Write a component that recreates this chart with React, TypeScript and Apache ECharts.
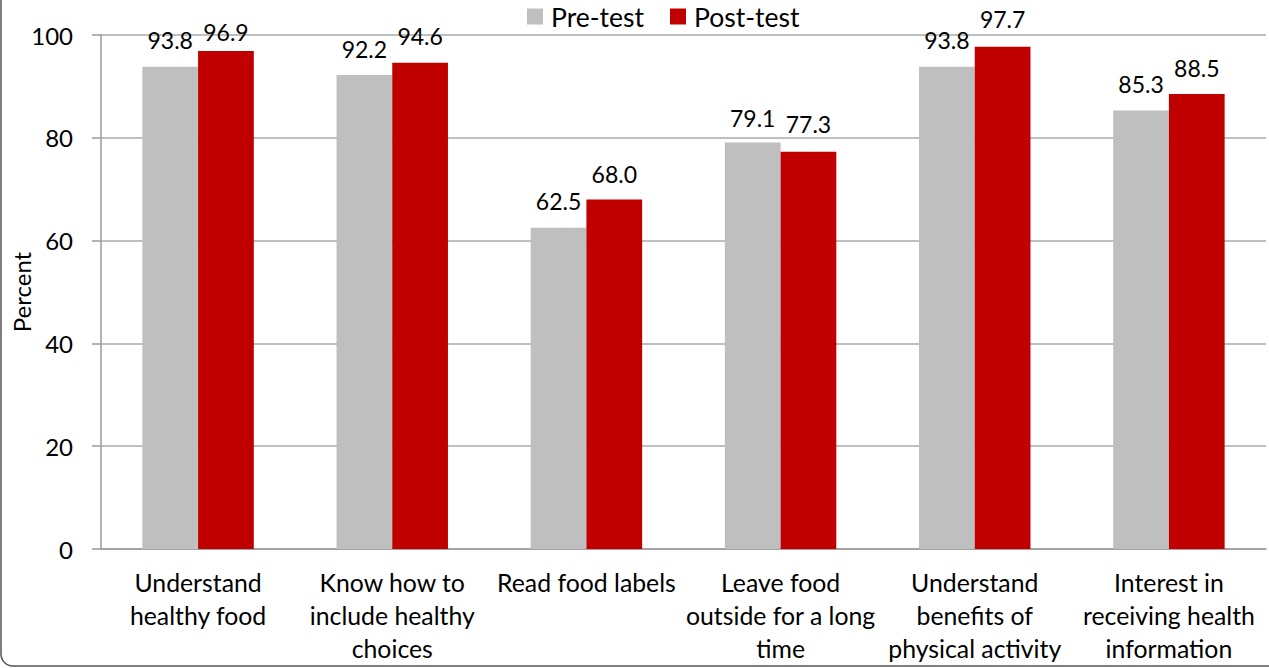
import React, { useEffect, useRef } from "react";
import * as echarts from "echarts";

const categories = [
  "Understand\nhealthy food",
  "Know how to\ninclude healthy\nchoices",
  "Read food labels",
  "Leave food\noutside for a long\ntime",
  "Understand\nbenefits of\nphysical activity",
  "Interest in\nreceiving health\ninformation",
];
const preTest = [93.8, 92.2, 62.5, 79.1, 93.8, 85.3];
const postTest = [96.9, 94.6, 68.0, 77.3, 97.7, 88.5];
const seriesNames = ["Pre-test", "Post-test"];

const FONT = "Lato";

// label offsets (px above bar) as in the original, where labels were nudged
const preDist = [15, 15, 15, 13, 15, 15];
const postDist = [7, 15, 14, 16, 16, 15];

export default function App() {
  const ref = useRef<HTMLDivElement>(null);
  useEffect(() => {
    if (!ref.current) return;
    const chart = echarts.init(ref.current, null, { renderer: "svg" });
    const labelStyle = {
      show: true,
      position: "top",
      distance: 15,
      color: "#000",
      fontFamily: FONT,
      fontSize: 23,
      fontWeight: "normal",
      formatter: (p: any) => Number(p.value).toFixed(1),
    };
    const mk = (vals: number[], dists: number[]) =>
      vals.map((v, i) => ({ value: v, label: { distance: dists[i] } }));
    chart.setOption({
      animation: false,
      textStyle: { fontFamily: FONT, fontWeight: "normal" },
      legend: {
        top: 3,
        left: 527,
        padding: 0,
        itemWidth: 16,
        itemHeight: 16,
        itemGap: 26,
        icon: "rect",
        textStyle: { fontSize: 26.5, color: "#000", fontFamily: FONT, padding: [0, 0, 0, 3] },
        data: seriesNames,
      },
      grid: {
        left: 101,
        right: 3,
        top: 35,
        bottom: 119,
        containLabel: false,
        outerBoundsMode: "none",
      },
      xAxis: {
        type: "category",
        data: categories,
        axisLine: { show: true, lineStyle: { color: "#9a9a9a", width: 1.5 } },
        axisTick: { show: false },
        axisLabel: {
          interval: 0,
          margin: 17,
          color: "#000",
          fontFamily: FONT,
          fontSize: 24.8,
          lineHeight: 33,
          align: "center",
          hideOverlap: false,
        },
      },
      yAxis: {
        type: "value",
        min: 0,
        max: 100,
        interval: 20,
        name: "Percent",
        nameLocation: "middle",
        nameGap: 68,
        nameMoveOverlap: false,
        nameTextStyle: { fontSize: 24, color: "#000", fontFamily: FONT, fontWeight: "normal" },
        axisLine: { show: true, lineStyle: { color: "#9a9a9a", width: 1.5 } },
        axisTick: { show: true, length: 9, lineStyle: { color: "#9a9a9a", width: 1.5 } },
        axisLabel: { margin: 28, color: "#000", fontSize: 24, fontFamily: FONT },
        splitLine: { show: true, lineStyle: { color: "#aaaaaa", width: 1.5 } },
      },
      series: [
        {
          name: seriesNames[0],
          type: "bar",
          data: mk(preTest, preDist),
          barWidth: "28.7%",
          barGap: "0%",
          itemStyle: { color: "#bfbfbf" },
          label: labelStyle,
        },
        {
          name: seriesNames[1],
          type: "bar",
          data: mk(postTest, postDist),
          barWidth: "28.7%",
          barGap: "0%",
          itemStyle: { color: "#c00000" },
          label: labelStyle,
        },
      ],
      graphic: [
        {
          type: "rect",
          shape: { x: 1, y: -40, width: 1320, height: 706, r: 12 },
          style: { fill: "none", stroke: "#555", lineWidth: 1.5 },
          silent: true,
        },
      ],
    });
    return () => chart.dispose();
  }, []);
  return (
    <div
      ref={ref}
      style={{ position: "fixed", left: 0, top: 0, width: 1269, height: 668, background: "#fff" }}
    />
  );
}
